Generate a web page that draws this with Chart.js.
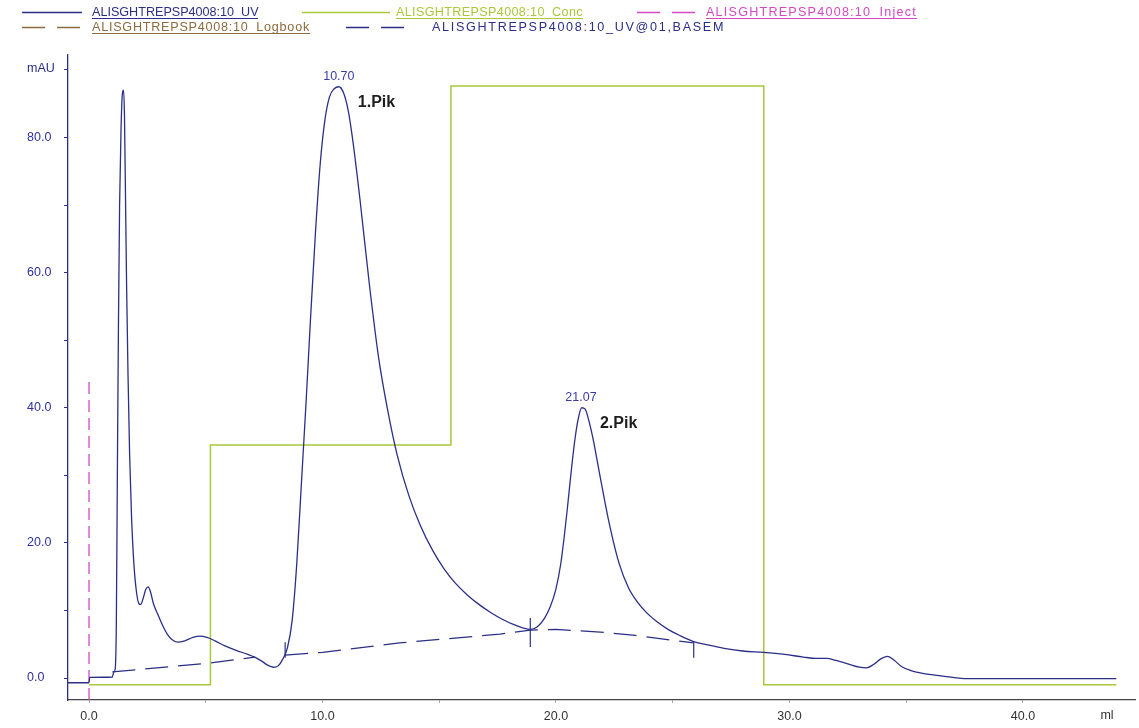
<!DOCTYPE html>
<html>
<head>
<meta charset="utf-8">
<script src="https://cdn.jsdelivr.net/npm/chart.js@4.4.1/dist/chart.umd.min.js"></script>
<style>
html,body{margin:0;padding:0;background:#fff;}
#wrap{width:1139px;height:728px;position:relative;}
</style>
</head>
<body>
<div id="wrap"><canvas id="chrom"></canvas></div>
<script>

/* DATA (ml / mAU) */

const uvX = [-0.9,0.0,0.03,0.6,1.0,1.06,1.12,1.17,1.21,1.26,1.31,1.37,1.43,1.48,1.52,1.56,1.61,1.67,1.74,1.82,1.92,2.03,2.14,2.22,2.32,2.43,2.53,2.63,2.76,2.95,3.15,3.35,3.55,3.8,4.1,4.45,4.75,5.05,5.4,5.8,6.3,6.8,7.1,7.4,7.65,7.9,8.1,8.3,8.5,8.7,8.9,9.1,9.3,9.5,9.7,9.9,10.1,10.3,10.5,10.7,10.9,11.1,11.3,11.6,12.0,12.4,12.8,13.2,13.7,14.2,14.7,15.2,15.7,16.2,16.7,17.2,17.7,18.2,18.6,18.9,19.2,19.5,19.75,20.0,20.2,20.35,20.5,20.65,20.8,20.95,21.1,21.25,21.4,21.6,21.8,22.0,22.3,22.7,23.1,23.5,23.9,24.3,24.8,25.3,25.9,26.5,27.2,28.0,28.9,29.8,30.6,31.2,31.6,32.0,32.5,33.0,33.3,33.6,33.9,34.2,34.5,34.8,35.2,35.7,36.3,37.0,37.5,44.0]
const uvY = [-0.7,-0.7,0.1,0.12,0.15,0.9,1.3,8,28,52,70,81,86.5,87,83,72,58,45,33,24,17,12.8,11.0,10.9,11.8,13.1,13.5,12.8,11.0,9.4,7.8,6.5,5.7,5.3,5.5,6.0,6.2,6.0,5.5,4.8,4.1,3.5,3.1,2.5,1.9,1.6,1.8,2.8,4.5,8.5,17,29,41,54,66,76,82.5,86,87.2,87.5,86.6,84,79.5,71,58.5,47.5,39.5,33,27,22.5,19,16.2,14,12.3,10.9,9.7,8.7,7.9,7.4,7.2,7.6,8.8,10.5,13.2,16.8,20.8,25.5,30.5,35,38.3,40.0,39.8,38.2,35.2,31.5,27.8,22.6,17,13.4,11.2,9.6,8.4,7.2,6.3,5.4,4.9,4.4,4.0,3.8,3.5,3.1,2.9,2.9,2.6,2.1,1.6,1.5,2.0,2.8,3.2,2.6,1.7,1.1,0.7,0.4,0.1,-0.1,-0.1]

const concX = [0.0,5.2,15.5,28.9,44.0]
const concY = [-1.0,34.5,87.6,-1.0,-1.0]

const injectX = [0.0,0.0]
const injectY = [-3.25,44.5]

// baseline, null = gap between the two integration windows
const baseX = [1.0,5.1,7.1,7.75,8.4,10.0,13.3,17.6,18.9,20.0,21.9,23.4,25.9]
const baseY = [0.9,2.2,3.1,null,3.4,3.8,5.2,6.5,7.1,7.2,6.8,6.3,5.2]

const markX = [8.4,18.9,25.9]
const markLow = [3.0,4.6,3.0]
const markHigh = [5.3,8.9,5.3]

const peakX = [10.70,21.07]
const peakY = [87.5,40.0]
const peakNames = ["1.Pik","2.Pik"]

const yTicks = [0,10,20,30,40,50,60,70,80,90]
const xTicks = [0,5,10,15,20,25,30,35,40]

const seriesNames = ["ALISGHTREPSP4008:10_UV","ALISGHTREPSP4008:10_Conc","ALISGHTREPSP4008:10_Inject","ALISGHTREPSP4008:10_Logbook","ALISGHTREPSP4008:10_UV@01,BASEM"]

const NAVY = "#2b2f86"
const GREEN = "#a9c83c"
const PINK = "#d448c2"
const BROWN = "#8c6b3e"
const FONT = "'Liberation Sans', Arial, sans-serif"

function pts(xs,ys){ return xs.map((x,i)=>({x:x,y:ys[i]})) }

let markerSets = markX.map((x,i)=>({
  label:"mark"+i,
  data:pts([x,x],[markLow[i],markHigh[i]]),
  borderColor:NAVY, borderWidth:1.2, pointRadius:0, showLine:true
}))

/* custom legend: line sample + underlined label, label stretched to its box */
const legendPlugin = {
  id:"chromLegend",
  afterDraw(chart){
    const ctx = chart.ctx
    const ds = chart.data.datasets
    const items = [
      {i:0,row:0,x1:22,x2:82,tx:92,tw:166,dash:[],u:true},
      {i:1,row:0,x1:302,x2:390,tx:396,tw:187,dash:[],u:true},
      {i:2,row:0,x1:637,x2:695,tx:706,tw:211,dash:[23,12],u:true},
      {i:3,row:1,x1:22,x2:82,tx:92,tw:218,dash:[23,12],u:true},
      {i:4,row:1,x1:346,x2:405,tx:432,tw:293,dash:[23,12],u:false}
    ]
    ctx.save()
    ctx.font = "12.6px " + FONT
    ctx.textBaseline = "alphabetic"
    items.forEach(it=>{
      const d = ds[it.i]
      const y = it.row==0 ? 12 : 27
      ctx.strokeStyle = d.borderColor
      ctx.lineWidth = 1.3
      ctx.setLineDash(it.dash)
      ctx.beginPath(); ctx.moveTo(it.x1,y+0.5); ctx.lineTo(it.x2,y+0.5); ctx.stroke()
      ctx.setLineDash([])
      ctx.fillStyle = d.borderColor
      ctx.textAlign = "left"
      ctx.letterSpacing = "0px"
      const w0 = ctx.measureText(d.label).width
      const sp = Math.max(0,(it.tw - w0)/(d.label.length))
      ctx.letterSpacing = sp.toFixed(2) + "px"
      ctx.fillText(d.label,it.tx,y+4)
      ctx.letterSpacing = "0px"
      if(it.u){
        ctx.lineWidth = 1
        ctx.beginPath(); ctx.moveTo(it.tx,y+6.5); ctx.lineTo(it.tx+it.tw,y+6.5); ctx.stroke()
      }
    })
    ctx.restore()
  }
}

/* peak retention + names, unit labels */
const peakPlugin = {
  id:"peakLabels",
  afterDatasetsDraw(chart){
    const ctx = chart.ctx
    const xs = chart.scales.x, ys = chart.scales.y
    ctx.save()
    ctx.textBaseline = "middle"
    peakX.forEach((v,i)=>{
      const px = xs.getPixelForValue(v), py = ys.getPixelForValue(peakY[i])
      ctx.font = "12.5px " + FONT
      ctx.fillStyle = "#3b3ba6"
      ctx.textAlign = "center"
      ctx.fillText(v.toFixed(2),px,py-10)
      ctx.font = "bold 16px " + FONT
      ctx.fillStyle = "#1e1e1e"
      ctx.textAlign = "left"
      ctx.fillText(peakNames[i],px+19,py+16)
    })
    ctx.font = "12.5px " + FONT
    ctx.fillStyle = NAVY
    ctx.textAlign = "left"
    ctx.fillText("mAU",27,69)
    ctx.fillStyle = "#333"
    ctx.textAlign = "center"
    ctx.fillText("ml",chart.chartArea.right-28,716)
    ctx.restore()
  }
}

new Chart(document.getElementById("chrom"),{
  type:"scatter",
  data:{
    datasets:[
      {label:seriesNames[0],data:pts(uvX,uvY),borderColor:NAVY,borderWidth:1.3,pointRadius:0,showLine:true,cubicInterpolationMode:"monotone"},
      {label:seriesNames[1],data:pts(concX,concY),borderColor:GREEN,borderWidth:1.5,pointRadius:0,showLine:true,stepped:true},
      {label:seriesNames[2],data:pts(injectX,injectY),borderColor:PINK,borderWidth:1.3,pointRadius:0,showLine:true,borderDash:[12,6]},
      {label:seriesNames[3],data:[],borderColor:BROWN,pointRadius:0,showLine:true},
      {label:seriesNames[4],data:pts(baseX,baseY),borderColor:NAVY,borderWidth:1.3,pointRadius:0,showLine:true,borderDash:[23,10],spanGaps:false},
      ...markerSets
    ]
  },
  options:{
    responsive:true,
    maintainAspectRatio:false,
    animation:false,
    layout:{padding:{left:27,top:55,right:4,bottom:0}},
    plugins:{legend:{display:false},tooltip:{enabled:false}},
    scales:{
      x:{
        type:"linear", min:-0.9, max:44.8,
        afterBuildTicks(s){ s.ticks = xTicks.map(v=>({value:v})) },
        afterFit(s){ s.height = 28 },
        border:{color:"#444",width:1.3},
        grid:{drawOnChartArea:false,tickLength:3,color:"#aaa"},
        ticks:{padding:6,color:"#333",font:{family:FONT,size:12.5},maxRotation:0,autoSkip:false,
          callback:v=> v%10==0 ? v.toFixed(1) : ""}
      },
      y:{
        type:"linear", min:-3.25, max:92.2,
        afterBuildTicks(s){ s.ticks = yTicks.map(v=>({value:v})) },
        afterFit(s){ s.width = 41 },
        border:{color:NAVY,width:1.3},
        grid:{drawOnChartArea:false,tickLength:4,color:NAVY},
        ticks:{crossAlign:"far",color:"#3030a0",font:{family:FONT,size:12.5},autoSkip:false,
          callback:v=> v%20==0 ? v.toFixed(1) : ""}
      }
    }
  },
  plugins:[legendPlugin,peakPlugin]
})

</script>
</body>
</html>
